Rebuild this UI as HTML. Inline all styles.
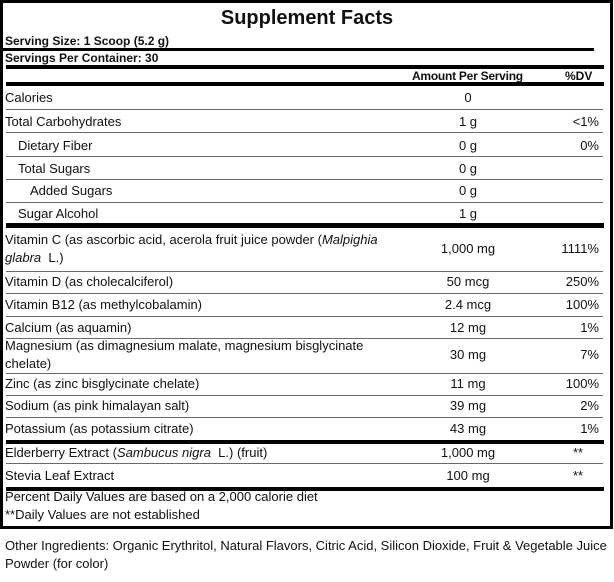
<!DOCTYPE html>
<html>
<head>
<meta charset="utf-8">
<style>
  html,body{margin:0;padding:0;background:#fff;}
  body{width:614px;height:582px;position:relative;overflow:hidden;font-family:"Liberation Sans",Arial,sans-serif;color:#111;}
  .box{position:absolute;left:0;top:0;width:607px;height:523px;border:3px solid #000;}
  .t{position:absolute;font-size:13px;line-height:16px;white-space:nowrap;}
  .b{font-weight:bold;font-size:12px;}
  .amt{position:absolute;left:408px;width:120px;text-align:center;font-size:13px;line-height:16px;white-space:nowrap;}
  .dv{position:absolute;left:530px;width:69px;text-align:right;font-size:13px;line-height:16px;white-space:nowrap;}
  .hl{position:absolute;background:#000;}
  .tl{position:absolute;left:6px;width:597px;height:1px;background:#6a6a6a;}
  i{font-style:italic;}
</style>
</head>
<body>
<div class="box"></div>

<div class="t" style="left:0;width:614px;text-align:center;top:6px;font-size:20px;line-height:24px;font-weight:bold;">Supplement Facts</div>

<div class="t b" style="left:5px;top:33px;">Serving Size: 1 Scoop (5.2 g)</div>
<div class="hl" style="left:0;top:48px;width:594px;height:3px;"></div>

<div class="t b" style="left:5px;top:50px;">Servings Per Container: 30</div>
<div class="hl" style="left:6px;top:65px;width:598px;height:4px;"></div>

<div class="t b" style="left:412px;top:68px;letter-spacing:-0.25px;">Amount Per Serving</div>
<div class="t b" style="left:565px;top:68px;">%DV</div>
<div class="hl" style="left:6px;top:82px;width:598px;height:4px;"></div>

<div class="t" style="left:5px;top:90px;">Calories</div>
<div class="amt" style="top:90px;">0</div>
<div class="tl" style="top:109px;"></div>

<div class="t" style="left:5px;top:114px;">Total Carbohydrates</div>
<div class="amt" style="top:114px;">1 g</div>
<div class="dv" style="top:114px;">&lt;1%</div>
<div class="tl" style="top:132px;"></div>

<div class="t" style="left:18px;top:138px;">Dietary Fiber</div>
<div class="amt" style="top:138px;">0 g</div>
<div class="dv" style="top:138px;">0%</div>
<div class="tl" style="top:156px;"></div>

<div class="t" style="left:18px;top:161px;">Total Sugars</div>
<div class="amt" style="top:161px;">0 g</div>
<div class="tl" style="top:179px;"></div>

<div class="t" style="left:30px;top:183px;">Added Sugars</div>
<div class="amt" style="top:183px;">0 g</div>
<div class="tl" style="top:202px;"></div>

<div class="t" style="left:18px;top:206px;">Sugar Alcohol</div>
<div class="amt" style="top:206px;">1 g</div>
<div class="hl" style="left:6px;top:223px;width:598px;height:5px;"></div>

<div class="t" style="left:5px;top:232px;">Vitamin C (as ascorbic acid, acerola fruit juice powder (<i>Malpighia</i></div>
<div class="t" style="left:5px;top:250px;"><i>glabra</i>&nbsp; L.)</div>
<div class="amt" style="top:241px;">1,000 mg</div>
<div class="dv" style="top:241px;">1111%</div>
<div class="tl" style="top:271px;"></div>

<div class="t" style="left:5px;top:274px;">Vitamin D (as cholecalciferol)</div>
<div class="amt" style="top:274px;">50 mcg</div>
<div class="dv" style="top:274px;">250%</div>
<div class="tl" style="top:293px;"></div>

<div class="t" style="left:5px;top:297px;">Vitamin B12 (as methylcobalamin)</div>
<div class="amt" style="top:297px;">2.4 mcg</div>
<div class="dv" style="top:297px;">100%</div>
<div class="tl" style="top:316px;"></div>

<div class="t" style="left:5px;top:320px;">Calcium (as aquamin)</div>
<div class="amt" style="top:320px;">12 mg</div>
<div class="dv" style="top:320px;">1%</div>
<div class="tl" style="top:338px;"></div>

<div class="t" style="left:5px;top:338px;">Magnesium (as dimagnesium malate, magnesium bisglycinate</div>
<div class="t" style="left:5px;top:356px;">chelate)</div>
<div class="amt" style="top:347px;">30 mg</div>
<div class="dv" style="top:347px;">7%</div>
<div class="tl" style="top:373px;"></div>

<div class="t" style="left:5px;top:376px;">Zinc (as zinc bisglycinate chelate)</div>
<div class="amt" style="top:376px;">11 mg</div>
<div class="dv" style="top:376px;">100%</div>
<div class="tl" style="top:395px;"></div>

<div class="t" style="left:5px;top:398px;">Sodium (as pink himalayan salt)</div>
<div class="amt" style="top:398px;">39 mg</div>
<div class="dv" style="top:398px;">2%</div>
<div class="tl" style="top:417px;"></div>

<div class="t" style="left:5px;top:421px;">Potassium (as potassium citrate)</div>
<div class="amt" style="top:421px;">43 mg</div>
<div class="dv" style="top:421px;">1%</div>
<div class="hl" style="left:6px;top:440px;width:598px;height:4px;"></div>

<div class="t" style="left:5px;top:445px;">Elderberry Extract (<i>Sambucus nigra</i>&nbsp; L.) (fruit)</div>
<div class="amt" style="top:445px;">1,000 mg</div>
<div class="t" style="left:573px;top:445px;">**</div>
<div class="tl" style="top:463px;"></div>

<div class="t" style="left:5px;top:468px;">Stevia Leaf Extract</div>
<div class="amt" style="top:468px;">100 mg</div>
<div class="t" style="left:573px;top:468px;">**</div>
<div class="hl" style="left:6px;top:487px;width:598px;height:4px;"></div>

<div class="t" style="left:5px;top:489px;">Percent Daily Values are based on a 2,000 calorie diet</div>
<div class="t" style="left:5px;top:507px;">**Daily Values are not established</div>

<div class="t" style="left:5px;top:538px;">Other Ingredients: Organic Erythritol, Natural Flavors, Citric Acid, Silicon Dioxide, Fruit &amp; Vegetable Juice</div>
<div class="t" style="left:5px;top:556px;">Powder (for color)</div>
</body>
</html>
